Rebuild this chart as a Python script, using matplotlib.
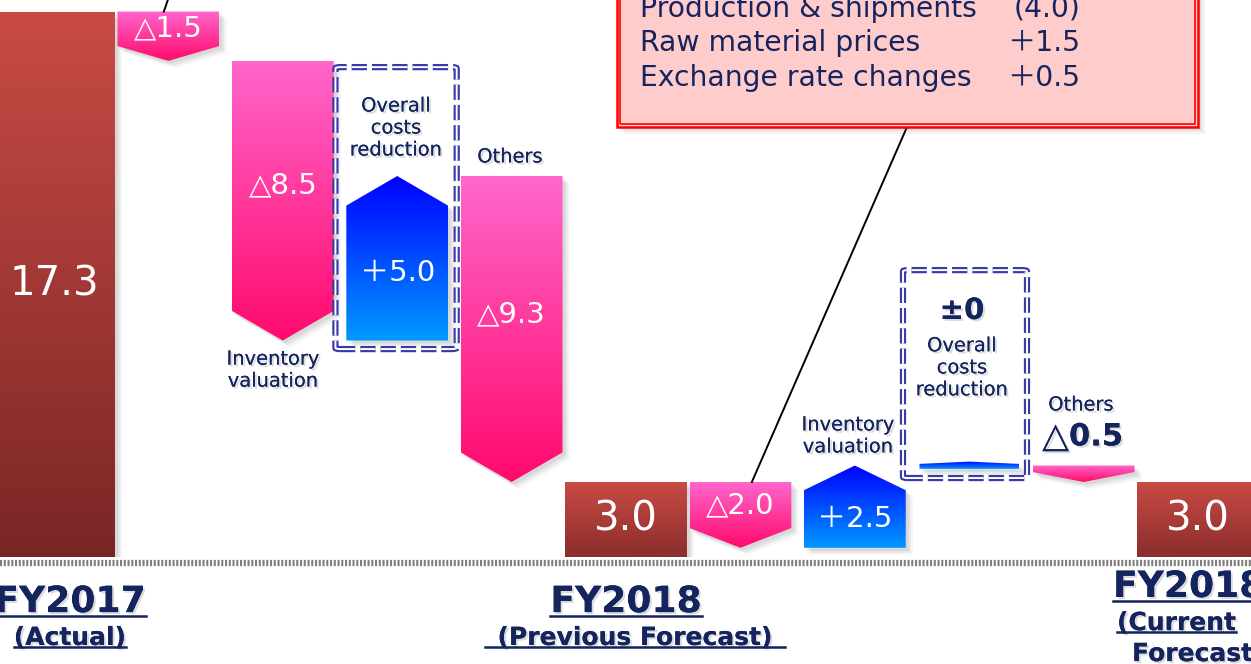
import numpy as np
import matplotlib
matplotlib.use("Agg")
import matplotlib.pyplot as plt
import matplotlib.patheffects as pe
from matplotlib import transforms
from matplotlib.colors import LinearSegmentedColormap
from matplotlib.lines import Line2D
from matplotlib.patches import Polygon, Rectangle, FancyBboxPatch

plt.rcParams["lines.scale_dashes"] = False
plt.rcParams["font.family"] = ["DejaVu Sans", "Noto Sans CJK JP"]

# waterfall data (billion yen)
items = ["FY2017", "Production & shipments", "Inventory valuation", "Overall costs reduction", "Others",
         "FY2018 prev", "Production & shipments", "Inventory valuation", "Overall costs reduction", "Others",
         "FY2018 cur"]
is_total = [True, False, False, False, False, True, False, False, False, False, True]
values = [17.3, -1.5, -8.5, 5.0, -9.3, 3.0, -2.0, 2.5, 0.0, -0.5, 3.0]
bar_labels = ["17.3", "△1.5", "△8.5", "＋5.0", "△9.3", "3.0", "△2.0", "＋2.5", "", "", "3.0"]

callout_items = ["Production & shipments", "Raw material prices", "Exchange rate changes"]
callout_values = ["(4.0)", "＋1.5", "＋0.5"]

navy = "#14245e"
shadow_fx = [pe.withSimplePatchShadow(offset=(1.5, -1.5), shadow_rgbFace="#888888", alpha=0.3), pe.Normal()]

fig = plt.figure(figsize=(12.51, 6.64), dpi=100)
ax = fig.add_axes([0, 1 - 557 / 664, 1, 557 / 664])
ax.set_xlim(-0.472, 10.463)
ax.set_ylim(0.72, 17.65)
ax.axis("off")


def gradient_shape(verts, c_top, c_bot, z):
    # soft drop shadow
    for k, a in [(3, 0.10), (5, 0.08), (7, 0.06)]:
        tr = transforms.offset_copy(ax.transData, fig=fig, x=k, y=-k, units="dots")
        ax.add_patch(Polygon(verts, closed=True, facecolor="#555555", edgecolor="none",
                             alpha=a, transform=tr, zorder=z - 1))
    poly = Polygon(verts, closed=True, facecolor="none", edgecolor="none", zorder=z)
    ax.add_patch(poly)
    xs = [p[0] for p in verts]
    ys = [p[1] for p in verts]
    cmap = LinearSegmentedColormap.from_list("g", [c_bot, c_top])
    im = ax.imshow(np.linspace(0, 1, 256).reshape(-1, 1), cmap=cmap, origin="lower",
                   extent=(min(xs), max(xs), min(ys), max(ys)), aspect="auto",
                   interpolation="bicubic", zorder=z)
    im.set_clip_path(poly)


level = 0.0
for i, (v, tot, lab) in enumerate(zip(values, is_total, bar_labels)):
    if tot:
        start, end = 0.0, v
        w = 0.53
        verts = [(i - w, start), (i + w, start), (i + w, end), (i - w, end)]
        gradient_shape(verts, "#c94b45", "#762424", 3)
        ymid = (max(start, 0.72) + end) / 2
        ax.text(i, ymid, lab, color="white", fontsize=29, ha="center", va="center", zorder=6)
        level = v
        continue
    start, end = level, level + v
    level = end
    w = 0.445
    if v < 0:
        ch = min(0.9, max(0.3, 0.3 * abs(v)))
        verts = [(i - w, start), (i + w, start), (i + w, end + ch), (i, end), (i - w, end + ch)]
        gradient_shape(verts, "#ff66cc", "#ff0a6c", 3)
        body_mid = (start + end + ch) / 2
    elif v > 0:
        ch = min(0.9, max(0.3, 0.3 * abs(v)))
        verts = [(i - w, start), (i + w, start), (i + w, end - ch), (i, end), (i - w, end - ch)]
        gradient_shape(verts, "#0000ff", "#0099ff", 3)
        body_mid = (start + end - ch) / 2
    else:
        w = 0.435
        verts = [(i - w, start - 0.1), (i + w, start - 0.1), (i + w, start + 0.05),
                 (i, start + 0.12), (i - w, start + 0.05)]
        gradient_shape(verts, "#0000ff", "#0099ff", 3)
        body_mid = start
    if lab:
        ax.text(i, body_mid, lab, color="white", fontsize=21, ha="center", va="center", zorder=6)


def dashed_box(x0, y0, x1, y1):
    for lw, col in [(4.5, "#3a3aa8"), (1.4, "white")]:
        ax.add_patch(FancyBboxPatch((x0, y0), x1 - x0, y1 - y0,
                                    boxstyle="round,pad=0,rounding_size=0.04",
                                    facecolor="none", edgecolor=col, lw=lw,
                                    linestyle=(0, (11, 3.6)), zorder=4))


dashed_box(2.46, 7.04, 3.52, 15.61)
dashed_box(7.421, 3.12, 8.505, 9.44)

# category annotations
txt = dict(color=navy, ha="center", va="center", fontsize=14, linespacing=1.2,
           path_effects=shadow_fx, zorder=7)
ax.text(1.914, 6.40, "Inventory\nvaluation", **txt)
ax.text(2.99, 13.76, "Overall\ncosts\nreduction", **txt)
ax.text(3.986, 12.88, "Others", **txt)
ax.text(6.94, 4.40, "Inventory\nvaluation", **txt)
ax.text(7.937, 6.47, "Overall\ncosts\nreduction", **txt)
ax.text(8.977, 5.34, "Others", **txt)
ax.text(7.937, 8.20, "±0", color=navy, ha="center", va="center", fontsize=21,
        fontweight="bold", path_effects=shadow_fx, zorder=7)
ax.text(8.872, 4.37, "△", color=navy, ha="right", va="center", fontsize=25,
        path_effects=shadow_fx, zorder=7)
ax.text(8.872, 4.37, "0.5", color=navy, ha="left", va="center", fontsize=22,
        fontweight="bold", path_effects=shadow_fx, zorder=7)

# callout box
cx0, cx1, cy0, cy1 = 4.921, 10.0, 13.79, 18.5
for k, a in [(4, 0.12), (7, 0.08)]:
    tr = transforms.offset_copy(ax.transData, fig=fig, x=k, y=-k, units="dots")
    ax.add_patch(Rectangle((cx0, cy0), cx1 - cx0, cy1 - cy0, facecolor="#555555",
                           edgecolor="none", alpha=a, transform=tr, zorder=7))
ax.add_patch(Rectangle((cx0, cy0), cx1 - cx0, cy1 - cy0, facecolor="#ffcccc",
                       edgecolor="#ff0000", lw=1.8, zorder=8))
ax.add_patch(Rectangle((cx0 + 0.03, cy0 + 0.09), cx1 - cx0 - 0.06, cy1 - cy0, facecolor="none",
                       edgecolor="#ff0000", lw=1.2, zorder=8))
for name, val, y in zip(callout_items, callout_values, [17.38, 16.35, 15.28]):
    ax.text(5.122, y, name, color=navy, fontsize=20.3, ha="left", va="center", zorder=9)
    ax.text(8.969, y, val, color=navy, fontsize=20.3, ha="right", va="center", zorder=9)

# leader lines
ax.plot([7.456, 6.10], [13.79, 3.0], color="black", lw=1.4, zorder=5)
ax.plot([1.03, 0.96], [18.0, 17.3], color="black", lw=1.4, zorder=5, clip_on=False)

# ground line
fig.add_artist(Line2D([0, 1], [1 - 563 / 664] * 2, transform=fig.transFigure, color="#7f7f7f",
                      lw=4.5, linestyle=(0, (1.5, 1.2))))

# period labels
lab = dict(color=navy, fontweight="bold", va="center", path_effects=shadow_fx)
t1 = ax.text(0.14, -0.65, "FY2017", fontsize=26, ha="center", **lab)
t2 = ax.text(0.14, -1.74, "(Actual)", fontsize=18, ha="center", **lab)
t3 = ax.text(5.0, -0.65, "FY2018", fontsize=26, ha="center", **lab)
t4 = ax.text(5.079, -1.74, "(Previous Forecast)", fontsize=18, ha="center", **lab)
t5 = ax.text(9.257, -0.19, "FY2018", fontsize=26, ha="left", **lab)
t6 = ax.text(9.292, -1.29, "(Current", fontsize=18, ha="left", **lab)
ax.text(9.423, -2.23, "Forecast)", fontsize=18, ha="left", **lab)

fig.canvas.draw()
renderer = fig.canvas.get_renderer()
for t, pad in [(t1, 0), (t2, 0), (t3, 0), (t4, 12), (t5, 0), (t6, 0)]:
    bb = t.get_window_extent(renderer)
    y = bb.y0 + 3
    fig.add_artist(Line2D([bb.x0 - pad, bb.x1 + pad], [y, y], transform=transforms.IdentityTransform(),
                          color=navy, lw=1.8))

fig.savefig("out.png", dpi=100)
